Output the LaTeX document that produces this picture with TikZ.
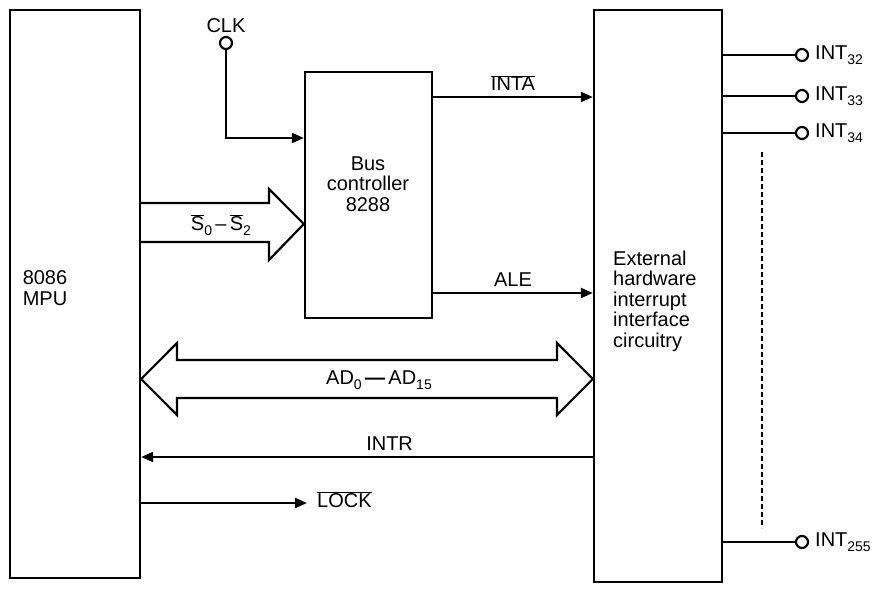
\documentclass[tikz,border=0pt]{standalone}
\usepackage{fontspec}
\setmainfont{Liberation Sans}
\usetikzlibrary{arrows.meta}
\newcommand{\ovl}[1]{$\overline{\hbox{#1}}$}
\newcommand{\lowsub}[1]{\raisebox{-0.45ex}{\fontsize{14}{14}\selectfont #1}}
\begin{document}
\begin{tikzpicture}[x=1pt,y=-1pt,
  font=\fontsize{20}{20.5}\selectfont,
  box/.style={draw, line width=2.4pt, inner sep=0pt},
  sig/.style={line width=2.2pt, -{Triangle[length=12pt,width=10pt]}},
  pin/.style={circle, draw, line width=2.2pt, minimum size=12pt, inner sep=0pt},
  wire/.style={line width=2.2pt},
  fat/.style={line width=2.2pt, line join=miter},
  lbl/.style={inner sep=0pt}
]
\useasboundingbox (0,0) rectangle (880,593);

% boxes
\node[box, minimum width=130pt, minimum height=568pt] (mpu) at (75,294) {};
\node[align=center, lbl] (mputxt) at (45,288) {8086\\MPU};
\node[box, minimum width=127pt, minimum height=246pt] (bus) at (368.5,195) {};
\node[align=center, lbl] (bustxt) at (368,184) {Bus\\controller\\8288};
\node[box, minimum width=128pt, minimum height=572pt] (ext) at (658,296) {};
\node[align=left, anchor=west, lbl] (exttxt) at (613,301) {External\\hardware\\interrupt\\interface\\circuitry};

% CLK
\node[pin] (clkpin) at (226,43) {};
\node[lbl, anchor=south] (clktxt) at ([yshift=3pt]clkpin.north) {CLK};
\draw[sig] (clkpin.south) |- (bus.west |- 0,138);

% INTA, ALE
\draw[sig] (bus.east |- 0,97) -- (ext.west |- 0,97)
  node[midway, above=5pt, lbl] (inta) {\ovl{INTA}};
\draw[sig] (bus.east |- 0,293) -- (ext.west |- 0,293)
  node[midway, above=5pt, lbl] (ale) {ALE};

% S0-S2 fat arrow
\draw[fat] (mpu.east |- 0,203) -- (269,203) -- (269,189) -- (bus.west |- 0,224)
  -- (269,260) -- (269,242) -- (mpu.east |- 0,242);
\node[lbl] (stxt) at (221,225) {\ovl{S}\lowsub{0}\,–\,\ovl{S}\lowsub{2}};

% AD bus double arrow
\draw[fat] (mpu.east |- 0,379) -- (177,343) -- (177,360) -- (557,360) -- (557,343)
  -- (ext.west |- 0,379) -- (557,415) -- (557,398) -- (177,398) -- (177,415) -- cycle;
\node[lbl] (adtxt) at (379,380) {AD\lowsub{0}\,\textbf{—}\,AD\lowsub{15}};

% INTR
\draw[sig] (ext.west |- 0,457) -- (mpu.east |- 0,457)
  node[pos=0.45, above=5pt, lbl] (intr) {INTR};

% LOCK
\node[anchor=west, inner ysep=0pt, inner xsep=10pt] (lock) at (307,500) {\ovl{LOCK}};
\draw[sig] (mpu.east |- 0,503) -- (lock.west |- 0,503);

% INT pins
\foreach \n/\y in {32/55, 33/96, 34/133, 255/542} {
  \node[pin] (p\n) at (802,\y) {};
  \node[lbl, anchor=west] (t\n) at (815,\y) {INT\lowsub{\n}};
  \draw[wire] (ext.east |- p\n) -- (p\n.west);
}
\draw[line width=2pt, dash pattern=on 5pt off 3pt] (762,152) -- (762,528);
\end{tikzpicture}
\end{document}
